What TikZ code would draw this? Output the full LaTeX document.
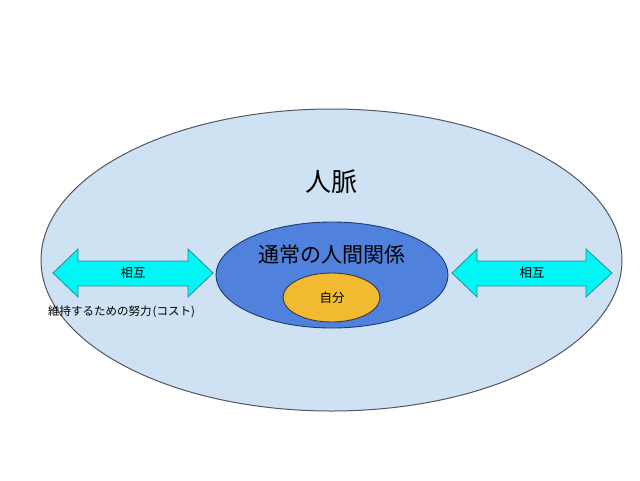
\documentclass[tikz,border=0pt]{standalone}
\usepackage{fontspec}
\setmainfont{Noto Sans CJK JP}
\definecolor{outerfill}{HTML}{CFE2F3}
\definecolor{outerline}{HTML}{55555F}
\definecolor{innerfill}{HTML}{4F81DD}
\definecolor{innerline}{HTML}{1F3A70}
\definecolor{selffill}{HTML}{F2BA30}
\definecolor{selfline}{HTML}{3A3A3A}
\definecolor{arrowfill}{HTML}{00F5F5}
\definecolor{arrowline}{HTML}{2A8A9A}
\begin{document}
\begin{tikzpicture}[x=1pt,y=-1pt,
  arrowshape/.style={fill=arrowfill,draw=arrowline,line width=0.8pt,line join=miter},
  lbl/.style={inner sep=0pt,text=black}]
\useasboundingbox (0,0) rectangle (640,480);
% outer ellipse
\draw[fill=outerfill,draw=outerline,line width=1pt] (331.5,260) ellipse [x radius=290.5,y radius=151];
% inner ellipse
\draw[fill=innerfill,draw=innerline,line width=0.9pt] (332,275) ellipse [x radius=116,y radius=53];
% self ellipse
\draw[fill=selffill,draw=selfline,line width=0.9pt] (331.5,297.5) ellipse [x radius=48.5,y radius=24.5];
% left double arrow
\draw[arrowshape] (53,273) -- (78,249) -- (78,261) -- (188,261) -- (188,249) -- (213,273)
  -- (188,297) -- (188,286) -- (78,286) -- (78,297) -- cycle;
% right double arrow
\draw[arrowshape] (452,273) -- (477,249) -- (477,261) -- (586,261) -- (586,249) -- (612,273)
  -- (586,297) -- (586,286) -- (477,286) -- (477,297) -- cycle;
% texts
\node[lbl,font=\fontsize{26}{30}\selectfont] (jinmyaku) at (331,182) {人脈};
\node[lbl,font=\fontsize{21}{25}\selectfont] (tsujo) at (332,255) {通常の人間関係};
\node[lbl,font=\fontsize{12.5}{15}\selectfont] (jibun) at (332,298) {自分};
\node[lbl,font=\fontsize{12.5}{15}\selectfont] (sogoL) at (133,273) {相互};
\node[lbl,font=\fontsize{12.5}{15}\selectfont] (sogoR) at (532,273) {相互};
\node[lbl,font=\fontsize{11.5}{14}\selectfont,anchor=west] (cost) at (48,312) {維持するための努力\kern1pt(コスト)};
\end{tikzpicture}
\end{document}
